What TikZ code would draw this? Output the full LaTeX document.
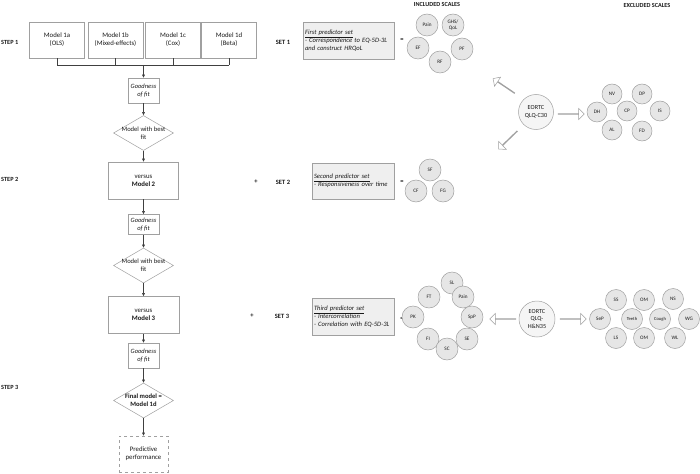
\documentclass[tikz,border=0pt]{standalone}
\usepackage{fontspec}
\setmainfont{Carlito}
\usetikzlibrary{shapes.geometric,shapes.arrows,arrows.meta}
\definecolor{bd}{HTML}{A0A0A0}
\definecolor{ln}{HTML}{404040}
\definecolor{tx}{HTML}{1A1A1A}
\definecolor{cfill}{HTML}{E6E6E6}
\definecolor{sfill}{HTML}{EFEFEF}
\tikzset{
  box/.style={draw=bd, line width=0.5pt, fill=white, text=tx, align=center, font=\fontsize{6.8}{8}\selectfont, inner sep=1pt},
  modelbox/.style={box, minimum width=55, minimum height=36},
  bigbox/.style={box, minimum width=70, minimum height=37},
  gof/.style={box, minimum width=31, minimum height=25, font=\fontsize{6.5}{7.6}\selectfont\itshape},
  dia/.style={diamond, draw=bd, line width=0.5pt, fill=white, minimum width=60, minimum height=35, aspect=1.7, inner sep=0pt},
  dlabel/.style={font=\fontsize{6.6}{8}\selectfont, text=tx, align=center},
  conn/.style={draw=ln, line width=0.6pt, -{Triangle[length=3.2pt,width=2.8pt]}},
  brk/.style={draw=ln, line width=0.6pt},
  steplbl/.style={font=\fontsize{6.3}{7}\selectfont\bfseries, text=tx, anchor=west, inner sep=0pt},
  setlbl/.style={font=\fontsize{6.5}{7}\selectfont\bfseries, text=tx, inner sep=0pt},
  hdr/.style={font=\fontsize{6.2}{7}\selectfont\bfseries, text=tx, inner sep=0pt},
  setbox/.style={draw=bd, line width=0.5pt, fill=sfill, text=tx, align=left, font=\fontsize{6.6}{7.8}\selectfont\itshape, inner xsep=2pt, inner ysep=1pt},
  sc/.style={circle, draw=bd, line width=0.5pt, fill=cfill, minimum size=22, inner sep=0pt, font=\fontsize{5.2}{6}\selectfont, text=tx, align=center},
  xc/.style={sc, minimum size=20},
  bigc/.style={sc, minimum size=35, font=\fontsize{6.2}{7.4}\selectfont, fill=white!60!cfill},
  barrow/.style={single arrow, draw=bd, fill=white, line width=0.5pt, minimum height=26, minimum width=11, single arrow head extend=3, inner sep=0pt},
}
\begin{document}
\begin{tikzpicture}[x=1pt,y=-1pt]
\useasboundingbox (0,0) rectangle (700,473);

% step labels
\node[steplbl] (s1) at (1,42) {STEP 1};
\node[steplbl] (s2) at (1,179) {STEP 2};
\node[steplbl] (s3) at (1,387) {STEP 3};

% models
\node[modelbox] (m1a) at (57,40) {Model 1a\\(OLS)};
\node[modelbox] (m1b) at (115.5,40) {Model 1b\\(Mixed-effects)};
\node[modelbox] (m1c) at (173,40) {Model 1c\\(Cox)};
\node[modelbox] (m1d) at (229,40) {Model 1d\\(Beta)};
\coordinate (ba) at (57,65);
\coordinate (bb) at (115.5,65);
\coordinate (bc) at (173,65);
\coordinate (bd) at (229,65);
\coordinate (bm) at (143.5,65);
\draw[brk] (m1a.south) -- (ba);
\draw[brk] (m1b.south) -- (bb);
\draw[brk] (m1c.south) -- (bc);
\draw[brk] (m1d.south) -- (bd);
\draw[brk] (ba) -- (bd);

% flow
\node[gof] (g1) at (143.5,90.5) {Goodness\\of fit};
\node[dia, label={[dlabel]center:Model with best\\fit}] (d1) at (143.5,133) {};
\node[bigbox] (mm2) at (143.5,180.5) {versus\\\textbf{Model 2}};
\node[gof, minimum height=20] (g2) at (143.5,224.5) {Goodness\\of fit};
\node[dia, label={[dlabel]center:Model with best\\fit}] (d2) at (143.5,265.5) {};
\node[bigbox, minimum width=71] (mm3) at (143.5,315) {versus\\\textbf{Model 3}};
\node[gof] (g3) at (143.5,355.5) {Goodness\\of fit};
\node[dia, label={[dlabel]center:\textbf{Final model =}\\\textbf{Model 1d}}] (d3) at (143.5,400.5) {};
\node[box, dashed, minimum width=49, minimum height=36] (pp) at (143.5,454) {Predictive\\performance};

\draw[conn] (bm) -- (g1.north);
\draw[conn] (g1) -- (d1);
\draw[conn] (d1) -- (mm2);
\draw[conn] (mm2) -- (g2);
\draw[conn] (g2) -- (d2);
\draw[conn] (d2) -- (mm3);
\draw[conn] (mm3) -- (g3);
\draw[conn] (g3) -- (d3);
\draw[conn] (d3) -- (pp);

% headers
\node[hdr] (inc) at (437,4) {INCLUDED SCALES};
\node[hdr] (exc) at (647,5) {EXCLUDED SCALES};

% set 1
\node[setlbl] (set1) at (283,42) {SET 1};
\node[setbox, minimum width=91, minimum height=37, text width=87] (sb1) at (348.5,40.5) {\underline{First predictor set}\\- Correspondence to EQ-5D-3L\\and construct HRQoL};
\node[setlbl] (eq1) at (402,40) {=};
\node[sc] (c1pain) at (427,25) {Pain};
\node[sc] (c1ghs) at (453,25) {GHS/\\QoL};
\node[sc] (c1ef) at (418,48) {EF};
\node[sc] (c1rf) at (440,62) {RF};
\node[sc] (c1pf) at (462,49) {PF};

% set 2
\node[setlbl] (plus2) at (256,182) {+};
\node[setlbl] (set2) at (283,182) {SET 2};
\node[setbox, minimum width=82, minimum height=36, text width=78] (sb2) at (353,181) {\underline{Second predictor set}\\- Responsiveness over time};
\node[setlbl] (eq2) at (402,182) {=};
\node[sc] (c2sf) at (430,170) {SF};
\node[sc] (c2cf) at (416,191) {CF};
\node[sc] (c2fg) at (443,191) {FG};

% set 3
\node[setlbl] (plus3) at (252,316) {+};
\node[setlbl] (set3) at (282,316) {SET 3};
\node[setbox, minimum width=82, minimum height=37, text width=78] (sb3) at (353,316.5) {\underline{Third predictor set}\\- Intercorrelation\\- Correlation with EQ-5D-3L};
\node[setlbl] (eq3) at (402,319) {=};
\node[sc] (c3sl) at (452,283) {SL};
\node[sc] (c3ft) at (429,297) {FT};
\node[sc] (c3pain) at (463,297) {Pain};
\node[sc] (c3pk) at (413,317) {PK};
\node[sc] (c3spp) at (472,317) {SpP};
\node[sc] (c3fi) at (428,339) {FI};
\node[sc] (c3se) at (467,339) {SE};
\node[sc] (c3sc) at (447,349) {SC};

% EORTC QLQ-C30
\node[bigc] (c30) at (536,112) {EORTC\\QLQ-C30};
\node[barrow, rotate=146] (a30ul) at (504,86) {};
\node[barrow, rotate=224] (a30dl) at (508,140) {};
\node[barrow] (a30r) at (571,114) {};
\node[xc] (xnv) at (612,94) {NV};
\node[xc] (xdp) at (642,94) {DP};
\node[xc] (xdh) at (597,112) {DH};
\node[xc] (xcp) at (627,111) {CP};
\node[xc] (xis) at (660,111) {IS};
\node[xc] (xal) at (612,130) {AL};
\node[xc] (xfd) at (642,131) {FD};

% EORTC QLQ-H&N35
\node[bigc, minimum size=36] (hn) at (537,319) {EORTC\\QLQ-\\H\&N35};
\node[barrow, rotate=180] (ahl) at (503,319) {};
\node[barrow] (ahr) at (573,319) {};
\node[xc, minimum size=21] (hss) at (616,300) {SS};
\node[xc, minimum size=21] (hom1) at (644,300) {OM};
\node[xc, minimum size=21] (hns) at (673,299) {NS};
\node[xc, minimum size=21] (hsep) at (600,319) {SeP};
\node[xc, minimum size=21, font=\fontsize{4.6}{5}\selectfont] (hteeth) at (632,319) {Teeth};
\node[xc, minimum size=21, font=\fontsize{4.6}{5}\selectfont] (hcough) at (660,319) {Cough};
\node[xc, minimum size=21] (hwg) at (689,319) {WG};
\node[xc, minimum size=21] (hls) at (616,338) {LS};
\node[xc, minimum size=21] (hom2) at (644,338) {OM};
\node[xc, minimum size=21] (hwl) at (675,338) {WL};
\end{tikzpicture}
\end{document}
